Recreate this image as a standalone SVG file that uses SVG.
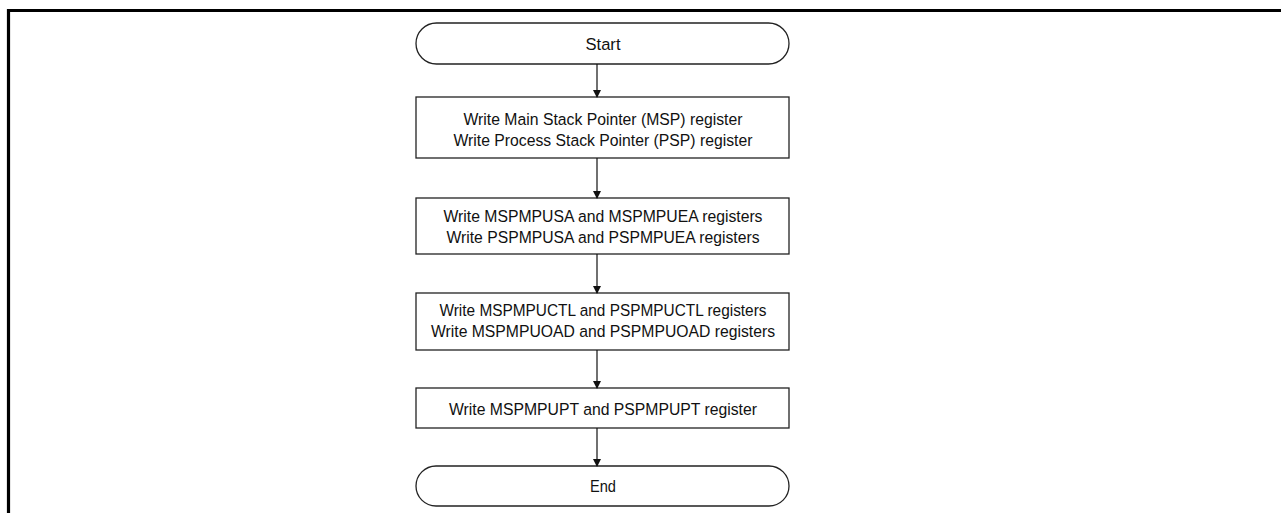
<svg xmlns="http://www.w3.org/2000/svg" width="1281" height="513" viewBox="0 0 1281 513">
<style>
.n{fill:#fff;stroke:#222;stroke-width:1.3}
.t{font-family:"Liberation Sans",Arial,sans-serif;font-size:16.8px;fill:#111;text-anchor:middle}
.c{stroke:#111;stroke-width:1.2;fill:none}
</style>
<defs>
<marker id="ah" markerWidth="8" markerHeight="10" refX="7" refY="4" orient="auto" markerUnits="userSpaceOnUse" viewBox="0 0 8 8">
<path d="M0,0 L8,4 L0,8 Z" fill="#111"/>
</marker>
</defs>
<rect width="1281" height="513" fill="#fff"/>
<path d="M8.5,513 V10.5 H1281" fill="none" stroke="#000" stroke-width="3.2"/>
<g id="start"><rect class="n" x="416" y="23" width="373" height="41" rx="20.5"/><text class="t" x="603" y="49.5" textLength="35" lengthAdjust="spacingAndGlyphs">Start</text></g>
<g id="step1"><rect class="n" x="416" y="97" width="373" height="61"/><text class="t" x="603" y="124.5" textLength="279" lengthAdjust="spacingAndGlyphs">Write Main Stack Pointer (MSP) register</text><text class="t" x="603" y="146" textLength="299" lengthAdjust="spacingAndGlyphs">Write Process Stack Pointer (PSP) register</text></g>
<g id="step2"><rect class="n" x="416" y="198" width="373" height="56"/><text class="t" x="603" y="221.5" textLength="319" lengthAdjust="spacingAndGlyphs">Write MSPMPUSA and MSPMPUEA registers</text><text class="t" x="603" y="242.5" textLength="313" lengthAdjust="spacingAndGlyphs">Write PSPMPUSA and PSPMPUEA registers</text></g>
<g id="step3"><rect class="n" x="416" y="293" width="373" height="57"/><text class="t" x="603" y="315.5" textLength="327" lengthAdjust="spacingAndGlyphs">Write MSPMPUCTL and PSPMPUCTL registers</text><text class="t" x="603" y="336.5" textLength="344" lengthAdjust="spacingAndGlyphs">Write MSPMPUOAD and PSPMPUOAD registers</text></g>
<g id="step4"><rect class="n" x="416" y="388" width="373" height="40"/><text class="t" x="603" y="414.5" textLength="308" lengthAdjust="spacingAndGlyphs">Write MSPMPUPT and PSPMPUPT register</text></g>
<g id="end"><rect class="n" x="416" y="466" width="373" height="40" rx="20"/><text class="t" x="603" y="492" textLength="26" lengthAdjust="spacingAndGlyphs">End</text></g>
<g id="connectors">
<line class="c" x1="597" y1="64" x2="597" y2="97" marker-end="url(#ah)"/>
<line class="c" x1="597" y1="158" x2="597" y2="198" marker-end="url(#ah)"/>
<line class="c" x1="597" y1="254" x2="597" y2="293" marker-end="url(#ah)"/>
<line class="c" x1="597" y1="350" x2="597" y2="388" marker-end="url(#ah)"/>
<line class="c" x1="597" y1="428" x2="597" y2="466" marker-end="url(#ah)"/>
</g>
</svg>
